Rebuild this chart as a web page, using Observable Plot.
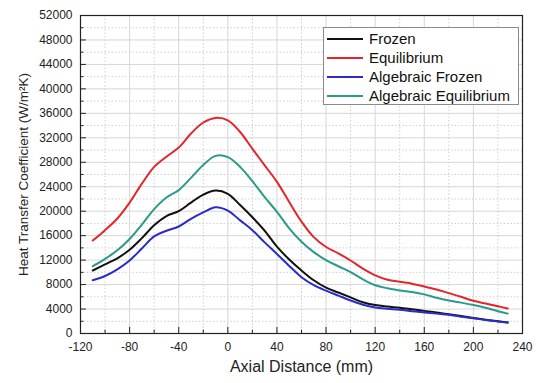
<!DOCTYPE html>
<html>
<head>
<meta charset="utf-8">
<script src="https://cdn.jsdelivr.net/npm/d3@7"></script>
<script src="https://cdn.jsdelivr.net/npm/@observablehq/plot@0.6"></script>
<style>
  body { margin: 0; background: #fff; }
  #wrap { position: relative; width: 539px; height: 383px; font-family: "Liberation Sans", Arial, sans-serif; }
  #legend { position: absolute; left: 323px; top: 27px; width: 194px; height: 76px; border: 1px solid #8a8a8a; background: #fff; }
  .row { position: absolute; left: 0; height: 19px; display: flex; align-items: center; font-size: 15px; color: #111; }
  .row svg { margin-left: 3px; margin-right: 6px; }
</style>
</head>
<body>
<div id="wrap"></div>
<script>
const xs = [-110,-100,-90,-80,-70,-60,-50,-40,-30,-20,-10,0,10,20,30,40,50,60,70,80,90,100,110,120,130,140,150,160,170,180,190,200,210,220,228];
const frozen = [10300,11300,12300,13700,15600,17700,19200,20000,21400,22700,23380,22850,21000,19000,16800,14200,12100,10300,8700,7500,6700,5900,5100,4650,4400,4200,3950,3700,3450,3150,2850,2550,2250,2000,1800];
const equilibrium = [15200,16900,18800,21400,24500,27250,28900,30400,32700,34500,35250,34850,32950,30200,27500,24800,21500,18300,15760,14150,13100,11940,10600,9500,8800,8450,8150,7700,7200,6600,6000,5350,4900,4450,4100];
const algFrozen = [8700,9400,10500,11950,13900,15880,16800,17500,18760,19800,20650,20100,18500,16900,14900,13000,11050,9200,7900,7000,6200,5400,4700,4250,4050,3900,3650,3450,3250,3050,2750,2500,2200,1950,1800];
const algEquilibrium = [11000,12200,13600,15450,17800,20350,22250,23450,25450,27550,29050,28850,27250,24900,22300,19900,17200,15000,13300,12000,11000,10030,8850,7900,7400,7050,6780,6400,5850,5400,5050,4650,4200,3650,3250];

const seriesNames = ["Frozen", "Equilibrium", "Algebraic Frozen", "Algebraic Equilibrium"];
const seriesValues = [frozen, equilibrium, algFrozen, algEquilibrium];
const seriesColors = ["#111111", "#e2262b", "#2b2bc8", "#2a9a8b"];

const yMajor = d3.range(0, 52001, 4000);
const yMinor = d3.range(2000, 52000, 4000);
const xMajor = d3.range(-120, 241, 40);
const xMinor = d3.range(-100, 240, 40);

const data = [];
seriesValues.forEach((vals, i) => vals.forEach((v, j) => data.push({x: xs[j], y: v, s: seriesNames[i]})));

const fmt = d => String(d);

const plot = Plot.plot({
  width: 539,
  height: 383,
  marginLeft: 80,
  marginRight: 17,
  marginTop: 15,
  marginBottom: 50,
  style: {fontFamily: '"Liberation Sans", Arial, sans-serif', fontSize: "12px", color: "#222", background: "#fff"},
  x: {domain: [-120, 240]},
  y: {domain: [0, 52000]},
  color: {domain: seriesNames, range: seriesColors},
  marks: [
    Plot.ruleY(yMajor, {stroke: "#d6d6d6", strokeWidth: 1}),
    Plot.ruleY(yMinor, {stroke: "#cfcfcf", strokeWidth: 1, strokeDasharray: "1.5,2"}),
    Plot.ruleX(xMajor, {stroke: "#d6d6d6", strokeWidth: 1}),
    Plot.ruleX(xMinor, {stroke: "#cfcfcf", strokeWidth: 1, strokeDasharray: "1.5,2"}),
    Plot.line(data, {x: "x", y: "y", z: "s", stroke: "s", strokeWidth: 2, curve: "catmull-rom"}),
    Plot.ruleY(yMajor, {x1: -120, x2: -115.2, stroke: "#222", strokeWidth: 1}),
    Plot.ruleY(yMinor, {x1: -120, x2: -117.2, stroke: "#222", strokeWidth: 1}),
    Plot.ruleX(xMajor, {y1: 0, y2: 980, stroke: "#222", strokeWidth: 1}),
    Plot.ruleX(xMinor, {y1: 0, y2: 560, stroke: "#222", strokeWidth: 1}),
    Plot.frame({stroke: "#222", strokeWidth: 1.2}),
    Plot.axisY(yMajor, {tickSize: 0, tickPadding: 8, tickFormat: fmt, label: null, fontSize: 12}),
    Plot.axisX(xMajor, {tickSize: 0, tickPadding: 9, tickFormat: fmt, label: null, fontSize: 12}),
    Plot.text(["Axial Distance (mm)"], {frameAnchor: "bottom", dy: 38, fontSize: 16, fill: "#222"}),
    Plot.text(["Heat Transfer Coefficient (W/m²K)"], {frameAnchor: "left", dx: -57, rotate: -90, textAnchor: "middle", fontSize: 13.5, fill: "#222"})
  ]
});

const wrap = document.getElementById("wrap");
wrap.appendChild(plot);

const legend = document.createElement("div");
legend.id = "legend";
seriesNames.forEach((name, i) => {
  const row = document.createElement("div");
  row.className = "row";
  row.style.top = (1 + i * 19) + "px";
  row.innerHTML = `<svg width="36" height="4"><line x1="0" x2="36" y1="2" y2="2" stroke="${seriesColors[i]}" stroke-width="2"/></svg><span>${name}</span>`;
  legend.appendChild(row);
});
wrap.appendChild(legend);
</script>
</body>
</html>
